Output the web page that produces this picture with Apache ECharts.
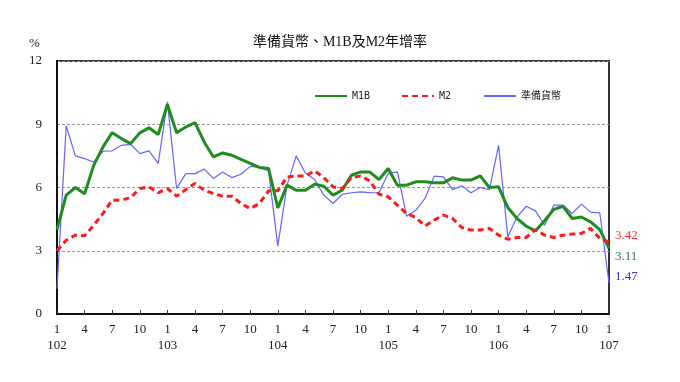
<!DOCTYPE html>
<html>
<head>
<meta charset="utf-8">
<script src="https://cdn.jsdelivr.net/npm/echarts@6/dist/echarts.min.js"></script>
<style>html,body{margin:0;padding:0;background:#fff}#c{width:680px;height:382px}</style>
</head>
<body>
<div id="c"></div>
<script>
const years = ['102','103','104','105','106','107'];
const m1b = [4.0,5.64,6.0,5.7,7.06,7.93,8.6,8.32,8.08,8.59,8.83,8.51,9.95,8.6,8.87,9.08,8.16,7.45,7.64,7.53,7.33,7.14,6.95,6.9,5.03,6.11,5.87,5.87,6.16,6.06,5.64,5.87,6.58,6.74,6.73,6.38,6.9,6.11,6.11,6.27,6.27,6.22,6.22,6.46,6.35,6.35,6.55,6.0,6.03,5.05,4.53,4.17,3.94,4.42,4.96,5.11,4.53,4.6,4.37,4.0,3.11];
const m2 = [3.0,3.5,3.74,3.71,4.21,4.77,5.4,5.4,5.52,5.95,6.03,5.75,5.95,5.59,5.9,6.19,5.87,5.71,5.59,5.59,5.24,5.0,5.24,5.84,5.84,6.5,6.54,6.54,6.79,6.47,6.03,5.95,6.47,6.54,6.32,5.68,5.56,5.16,4.77,4.58,4.17,4.45,4.69,4.53,4.1,3.98,3.98,4.06,3.74,3.55,3.63,3.63,4.0,3.74,3.63,3.74,3.79,3.82,4.06,3.58,3.42];
const reserve = [1.2,8.92,7.5,7.37,7.21,7.72,7.74,8.0,8.05,7.61,7.74,7.14,10.06,5.95,6.66,6.66,6.87,6.43,6.74,6.47,6.63,7.0,6.95,6.79,3.22,6.1,7.5,6.69,6.38,5.64,5.24,5.67,5.75,5.79,5.76,5.75,6.66,6.74,4.64,4.92,5.48,6.54,6.5,5.9,6.08,5.75,6.0,5.9,8.0,3.66,4.6,5.11,4.89,4.21,5.16,5.16,4.77,5.21,4.83,4.8,1.47];
const yTicks = [0,3,6,9,12];
const names = ['M1B','M2','準備貨幣'];
const title = '準備貨幣、M1B及M2年增率';

const categories = [];
years.forEach((y, yi) => {
  const last = yi === years.length - 1 ? 1 : 12;
  for (let m = 1; m <= last; m++) categories.push(y + '-' + m);
});

const serif = "'Liberation Serif','Times New Roman',serif";
const chart = echarts.init(document.getElementById('c'), null, {renderer:'canvas'});
const legendBase = {top: 86, itemWidth: 32, itemHeight: 10, itemGap: 3,
  itemStyle: {opacity: 0},
  textStyle: {fontSize: 10, color: '#222', fontFamily: "'DejaVu Sans Mono','Noto Sans CJK TC',monospace"}};
chart.setOption({
  animation: false,
  title: {text: title, left: 'center', top: 30,
    textStyle: {fontSize: 14, fontWeight: 'normal', color: '#111', fontFamily: serif + ",'Noto Sans CJK TC'"}},
  legend: [
    Object.assign({}, legendBase, {left: 309, data: [names[0]]}),
    Object.assign({}, legendBase, {left: 396, data: [names[1]]}),
    Object.assign({}, legendBase, {left: 478, data: [names[2]]})
  ],
  graphic: [{type: 'text', left: 29, top: 37, style: {text: '%', fontSize: 13, fill: '#222', fontFamily: serif}}],
  grid: {left: 57, right: 71, top: 61, bottom: 68, show: true, borderColor: '#333', borderWidth: 2},
  xAxis: {
    type: 'category', data: categories, boundaryGap: false,
    axisLine: {lineStyle: {color: '#111', width: 2}},
    axisTick: {inside: true, length: 4, lineStyle: {color: '#333'}, interval: (i) => i % 3 === 0},
    axisLabel: {
      interval: (i) => i % 3 === 0, margin: 8, fontSize: 13, color: '#222', fontFamily: serif, lineHeight: 16,
      formatter: (v) => { const p = v.split('-'); return p[1] === '1' ? '1\n' + p[0] : p[1]; }
    },
    splitLine: {show: false}
  },
  yAxis: {
    type: 'value', min: yTicks[0], max: yTicks[yTicks.length-1], interval: 3,
    axisLine: {show: true, lineStyle: {color: '#111', width: 2}},
    axisTick: {show: false},
    axisLabel: {margin: 15, fontSize: 13, color: '#222', fontFamily: serif},
    splitLine: {lineStyle: {color: '#999', type: [3, 2], width: 1}}
  },
  series: [
    {name: names[0], type: 'line', data: m1b, symbol: 'none', z: 4,
      lineStyle: {color: '#1e8c1e', width: 3}, itemStyle: {color: '#1e8c1e'},
      endLabel: {show: true, formatter: '3.11', color: '#2e7d4f', fontSize: 13, fontFamily: serif, distance: 6, offset: [0, 8]}},
    {name: names[1], type: 'line', data: m2, symbol: 'none', z: 5,
      lineStyle: {color: '#ff1a1a', width: 3, type: [6, 4]}, itemStyle: {color: '#ff1a1a'},
      endLabel: {show: true, formatter: '3.42', color: '#ff3333', fontSize: 13, fontFamily: serif, distance: 6, offset: [0, -6]}},
    {name: names[2], type: 'line', data: reserve, symbol: 'none', z: 3,
      lineStyle: {color: '#6464ff', width: 1.2}, itemStyle: {color: '#6464ff'},
      endLabel: {show: true, formatter: '1.47', color: '#3a3ad0', fontSize: 13, fontFamily: serif, distance: 6, offset: [0, -6]}}
  ]
});
</script>
</body>
</html>
